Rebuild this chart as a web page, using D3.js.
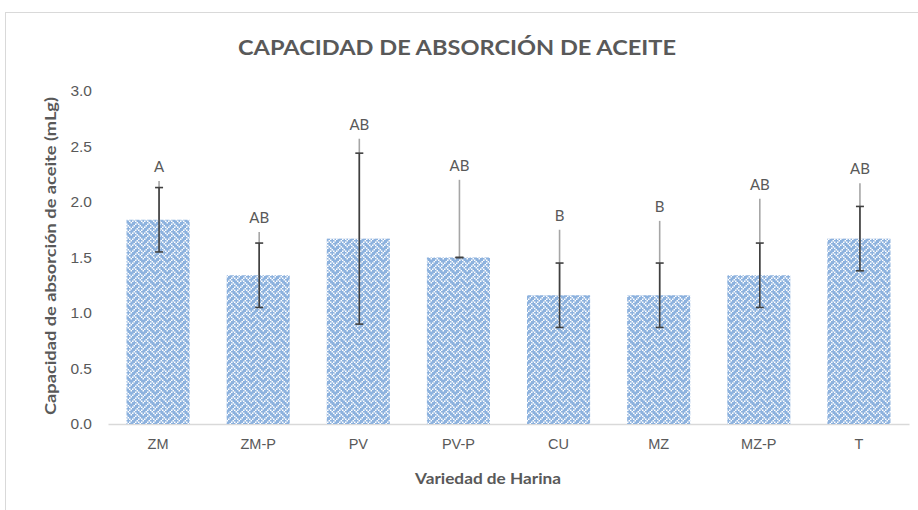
<!DOCTYPE html>
<html>
<head>
<meta charset="utf-8">
<script src="https://cdn.jsdelivr.net/npm/d3@7"></script>
<style>
  body { margin: 0; background: #fff; }
  svg { display: block; font-family: Lato, "Open Sans", sans-serif; }
</style>
</head>
<body>
<script>
/* Data */
const categories = ["ZM", "ZM-P", "PV", "PV-P", "CU", "MZ", "MZ-P", "T"];
const means = [1.84, 1.34, 1.67, 1.50, 1.16, 1.16, 1.34, 1.67];
const sdErr = [0.29, 0.29, 0.77, 0.0, 0.29, 0.29, 0.29, 0.29];
const upperErr = [0.35, 0.39, 0.90, 0.70, 0.59, 0.67, 0.69, 0.50];
const letters = ["A", "AB", "AB", "AB", "B", "B", "AB", "AB"];
const yTicks = [0, 0.5, 1, 1.5, 2, 2.5, 3];

/* Constants */
const w = 918;
const h = 510;
const textColor = "#595959";

const svg = d3.select("body").append("svg")
  .attr("width", w)
  .attr("height", h);

/* Weave pattern (white weave on blue) */
const bits = [0x11, 0x2a, 0x44, 0xa2, 0x11, 0x28, 0x44, 0x8a];
const cell = 1.5;
const pat = svg.append("defs").append("pattern")
  .attr("id", "weave")
  .attr("patternUnits", "userSpaceOnUse")
  .attr("width", cell * 8)
  .attr("height", cell * 8);
pat.append("rect")
  .attr("width", cell * 8).attr("height", cell * 8)
  .attr("fill", "#8db2de");
bits.forEach((b, r) => {
  for (let c = 0; c < 8; c++) {
    if (b & (0x80 >> c)) {
      pat.append("rect")
        .attr("x", c * cell).attr("y", r * cell)
        .attr("width", cell).attr("height", cell)
        .attr("fill", "#ffffff");
    }
  }
});

/* Frame */
svg.append("rect")
  .attr("x", 5.5).attr("y", 12.5)
  .attr("width", 940).attr("height", 540)
  .attr("fill", "none")
  .attr("stroke", "#d9d9d9");

/* Scales */
const data = categories.map((c, i) => ({
  cat: c, v: means[i], sd: sdErr[i], up: upperErr[i], lab: letters[i]
}));

const xScale = d3.scaleBand()
  .domain(categories)
  .range([108, 909])
  .paddingInner(0.37)
  .paddingOuter(0.185);

const yScale = d3.scaleLinear()
  .domain([0, 3])
  .range([424, 91]);

/* Axes */
const xAxis = svg.append("g")
  .attr("transform", "translate(0,424)")
  .call(d3.axisBottom(xScale).tickSize(0).tickPadding(15));
xAxis.select(".domain").attr("stroke", "#d9d9d9").attr("stroke-width", 1.3);
xAxis.selectAll("text")
  .attr("fill", textColor)
  .style("font-size", "14.5px");

const yAxis = svg.append("g")
  .attr("transform", "translate(92,0)")
  .call(d3.axisLeft(yScale).tickValues(yTicks).tickFormat(d3.format(".1f")).tickSize(0).tickPadding(0));
yAxis.select(".domain").remove();
yAxis.selectAll("text")
  .attr("fill", textColor)
  .style("font-size", "15.5px");

/* Bars */
svg.selectAll("rect.bar")
  .data(data)
  .enter()
  .append("rect")
  .attr("class", "bar")
  .attr("x", d => xScale(d.cat))
  .attr("y", d => yScale(d.v))
  .attr("width", xScale.bandwidth())
  .attr("height", d => yScale(0) - yScale(d.v))
  .attr("fill", "url(#weave)");

const cx = d => xScale(d.cat) + xScale.bandwidth() / 2 + 1;

/* Upper gray lines */
svg.selectAll("line.up")
  .data(data)
  .enter()
  .append("line")
  .attr("class", "up")
  .attr("x1", cx).attr("x2", cx)
  .attr("y1", d => yScale(d.v))
  .attr("y2", d => yScale(d.v + d.up))
  .attr("stroke", "#a6a6a6")
  .attr("stroke-width", 1.6);

/* Error bars */
const eb = svg.selectAll("g.err")
  .data(data)
  .enter()
  .append("g")
  .attr("class", "err")
  .attr("stroke", "#404040")
  .attr("stroke-width", 1.6);
eb.append("line")
  .attr("x1", cx).attr("x2", cx)
  .attr("y1", d => yScale(d.v - d.sd))
  .attr("y2", d => yScale(d.v + d.sd));
eb.append("line")
  .attr("x1", d => cx(d) - 4).attr("x2", d => cx(d) + 4)
  .attr("y1", d => yScale(d.v + d.sd))
  .attr("y2", d => yScale(d.v + d.sd));
eb.append("line")
  .attr("x1", d => cx(d) - 4).attr("x2", d => cx(d) + 4)
  .attr("y1", d => yScale(d.v - d.sd))
  .attr("y2", d => yScale(d.v - d.sd));

/* Letters */
svg.selectAll("text.lab")
  .data(data)
  .enter()
  .append("text")
  .attr("class", "lab")
  .attr("x", cx)
  .attr("y", d => yScale(d.v + d.up) - 9)
  .attr("text-anchor", "middle")
  .attr("fill", textColor)
  .style("font-size", "15px")
  .text(d => d.lab);

/* Titles */
svg.append("text")
  .attr("x", 457).attr("y", 55)
  .attr("text-anchor", "middle")
  .attr("fill", textColor)
  .attr("textLength", 438)
  .attr("lengthAdjust", "spacingAndGlyphs")
  .style("font-size", "21px")
  .style("font-weight", "bold")
  .text("CAPACIDAD DE ABSORCIÓN DE ACEITE");

svg.append("text")
  .attr("x", 488).attr("y", 484)
  .attr("text-anchor", "middle")
  .attr("fill", textColor)
  .attr("textLength", 146)
  .attr("lengthAdjust", "spacingAndGlyphs")
  .style("font-size", "16px")
  .style("font-weight", "bold")
  .text("Variedad de Harina");

svg.append("text")
  .attr("transform", "translate(56,256) rotate(-90)")
  .attr("text-anchor", "middle")
  .attr("fill", textColor)
  .attr("textLength", 318)
  .attr("lengthAdjust", "spacingAndGlyphs")
  .style("font-size", "15.5px")
  .style("font-weight", "bold")
  .text("Capacidad de absorción de aceite (mLg)");
</script>
</body>
</html>
